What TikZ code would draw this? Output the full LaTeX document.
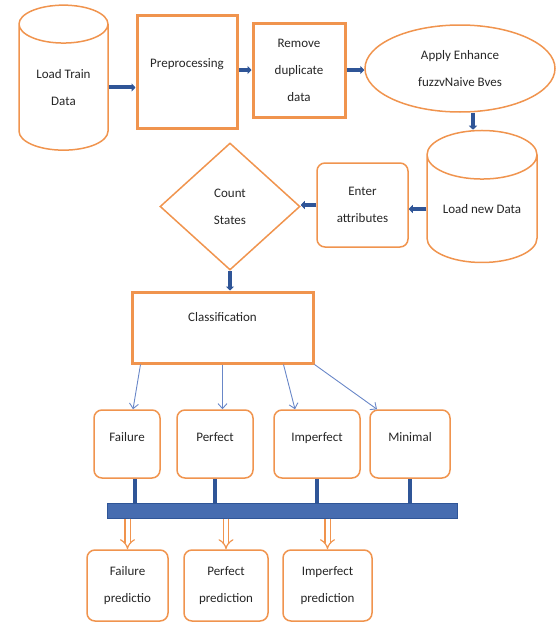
\documentclass[tikz,border=0pt]{standalone}
\usepackage{fontspec}
\setmainfont{Carlito}
\usetikzlibrary{shapes.geometric,arrows.meta,calc}
\definecolor{boxorange}{RGB}{240,148,78}
\definecolor{flowblue}{RGB}{47,85,151}
\definecolor{thinblue}{RGB}{105,135,200}
\definecolor{busblue}{RGB}{70,108,176}
\begin{document}
\begin{tikzpicture}[x=1pt, y=-1pt,
    every node/.style = {font=\fontsize{13}{27}\selectfont, align=center, text=black!85},
    drum/.style = {cylinder, shape border rotate=90, draw=boxorange, line width=1.5pt, inner sep=0pt},
    thickbox/.style = {rectangle, draw=boxorange, line width=3pt, inner sep=0pt},
    softbox/.style = {rectangle, rounded corners=8pt, draw=boxorange, line width=1.5pt, inner sep=0pt},
    flow/.style = {flowblue, line width=4pt, -{Triangle[length=4pt, width=8pt]}},
    tie/.style = {flowblue, line width=4pt},
    branch/.style = {thinblue, line width=0.9pt, -{Straight Barb[length=5pt, width=9pt]}},
    hollow/.style = {boxorange, line width=1.2pt, double=white, double distance=4pt, -{Implies}}]
    \useasboundingbox (0,0) rectangle (557,624);

    % first row
    \node[drum, aspect=0.7, minimum width=89pt, minimum height=145pt] (train) at (63.5,87.5) {Load Train\\Data};
    \node[thickbox, minimum width=100pt, text height=52pt, text depth=61pt] (prep) at (187,71.5) {Preprocessing};
    \node[thickbox, minimum width=92pt, minimum height=94pt] (dup) at (299,70) {Remove\\duplicate\\data};
    \node[ellipse, draw=boxorange, line width=1.5pt, inner sep=0pt, minimum width=190pt, minimum height=87pt] (enh) at (460,68.5) {Apply Enhance\\fuzzvNaive Bves};

    % second row
    \node[drum, aspect=0.62, minimum width=110pt, minimum height=132pt] (newdata) at (482,209) {Load new Data};
    \node[softbox, minimum width=91pt, minimum height=84pt] (attr) at (362.5,205) {Enter\\attributes};
    \node[diamond, draw=boxorange, line width=1.5pt, inner sep=0pt, minimum width=140pt, minimum height=127pt] (count) at (230,206.5) {Count\\States};

    \node[thickbox, minimum width=181pt, text height=29pt, text depth=42pt] (cls) at (222.5,327.5) {Classification};

    % classes
    \node[softbox, minimum width=66pt, text height=31pt, text depth=37pt] (fail) at (127,444) {Failure};
    \node[softbox, minimum width=76pt, text height=31pt, text depth=37pt] (perf) at (215,444) {Perfect};
    \node[softbox, minimum width=86pt, text height=31pt, text depth=37pt] (imp) at (317,444) {Imperfect};
    \node[softbox, minimum width=80pt, text height=31pt, text depth=37pt] (min) at (410,444) {Minimal};

    \node[rectangle, fill=busblue, draw=flowblue, line width=1pt, minimum width=350pt, minimum height=15pt, inner sep=0pt] (bus) at (282,510.5) {};

    % predictions
    \node[softbox, minimum width=81pt, minimum height=71pt] (pfail) at (127.5,585.5) {Failure\\predictio};
    \node[softbox, minimum width=84pt, minimum height=71pt] (pperf) at (226,585.5) {Perfect\\prediction};
    \node[softbox, minimum width=89pt, minimum height=71pt] (pimp) at (327.5,585.5) {Imperfect\\prediction};

    \draw[flow] (train.east) -- (train.east -| prep.west);
    \draw[flow] (dup.west -| prep.east) -- (dup.west);
    \draw[flow] (dup.east) -- (dup.east -| enh.west);
    \draw[flow] ([xshift=13pt]enh.south) -- ([xshift=13pt]enh.south |- newdata.north);
    \draw[flow] (newdata.west) -- (newdata.west -| attr.east);
    \draw[flow] (attr.west) -- (attr.west -| count.east);
    \draw[flow] (count.south) -- (count.south |- cls.north);

    \draw[branch] ([xshift=10pt]cls.south west) -- ([xshift=6pt]fail.north);
    \draw[branch] (cls.south) -- (cls.south |- perf.north);
    \draw[branch] ([xshift=-31pt]cls.south east) -- ([xshift=-22pt]imp.north);
    \draw[branch] (cls.south east) -- ([xshift=-33pt]min.north);

    \draw[tie] ([xshift=8pt]fail.south) -- ([xshift=8pt]fail.south |- bus.north);
    \draw[tie] (perf.south) -- (perf.south |- bus.north);
    \draw[tie] (imp.south) -- (imp.south |- bus.north);
    \draw[tie] (min.south) -- (min.south |- bus.north);

    \draw[hollow] (pfail.north |- bus.south) -- (pfail.north);
    \draw[hollow] (pperf.north |- bus.south) -- (pperf.north);
    \draw[hollow] (pimp.north |- bus.south) -- (pimp.north);
\end{tikzpicture}
\end{document}
